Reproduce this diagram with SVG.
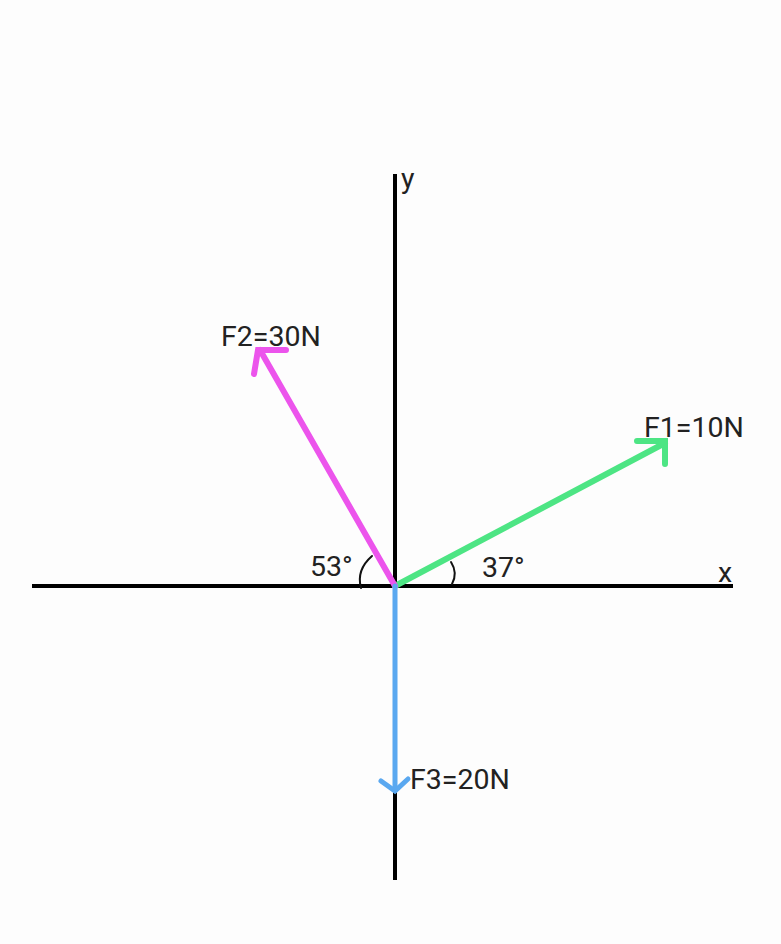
<svg xmlns="http://www.w3.org/2000/svg" width="781" height="944" viewBox="0 0 781 944">
<style>
.ax{stroke:#000;stroke-width:4;fill:none}
.arc{stroke:#111;stroke-width:2;fill:none;stroke-linecap:round}
.lbl{font-family:Roboto,"Liberation Sans",sans-serif;font-size:28.5px;fill:#222}
.f1{stroke:#4de584;stroke-width:6;fill:none;stroke-linecap:round}
.f2{stroke:#ec54ec;stroke-width:6;fill:none;stroke-linecap:round}
.f3{stroke:#5aa8f0;stroke-width:5;fill:none;stroke-linecap:round}
</style>
<rect width="781" height="944" fill="#fdfdfd"/>
<g id="axes">
<line class="ax" x1="32" y1="586" x2="733" y2="586"/>
<line class="ax" x1="395" y1="174" x2="395" y2="880"/>
<text class="lbl" x="401" y="188">y</text>
<text class="lbl" x="718" y="582">x</text>
</g>
<g id="connectors">
<g id="F1">
<line class="f1" x1="395" y1="586" x2="665" y2="443"/>
<polyline class="f1" points="637,441 665,441 665,464" stroke-width="3"/>
</g>
<g id="F2">
<line class="f2" x1="395" y1="586" x2="260" y2="350"/>
<polyline class="f2" points="286,350 258,350 254,374" stroke-width="3"/>
</g>
<g id="F3">
<line class="f3" x1="395" y1="586" x2="395" y2="790"/>
<polyline class="f3" points="381,781 395,791 408,779" stroke-width="3"/>
</g>
</g>
<g id="angles">
<path class="arc" d="M372,556 Q356,570 361,588"/>
<path class="arc" d="M451,562 Q458,573 452,584"/>
<text class="lbl" x="310" y="576">53°</text>
<text class="lbl" x="482" y="577">37°</text>
</g>
<g id="labels">
<text class="lbl" x="221" y="346">F2=30N</text>
<text class="lbl" x="644" y="437">F1=10N</text>
<text class="lbl" x="410" y="789">F3=20N</text>
</g>
</svg>
